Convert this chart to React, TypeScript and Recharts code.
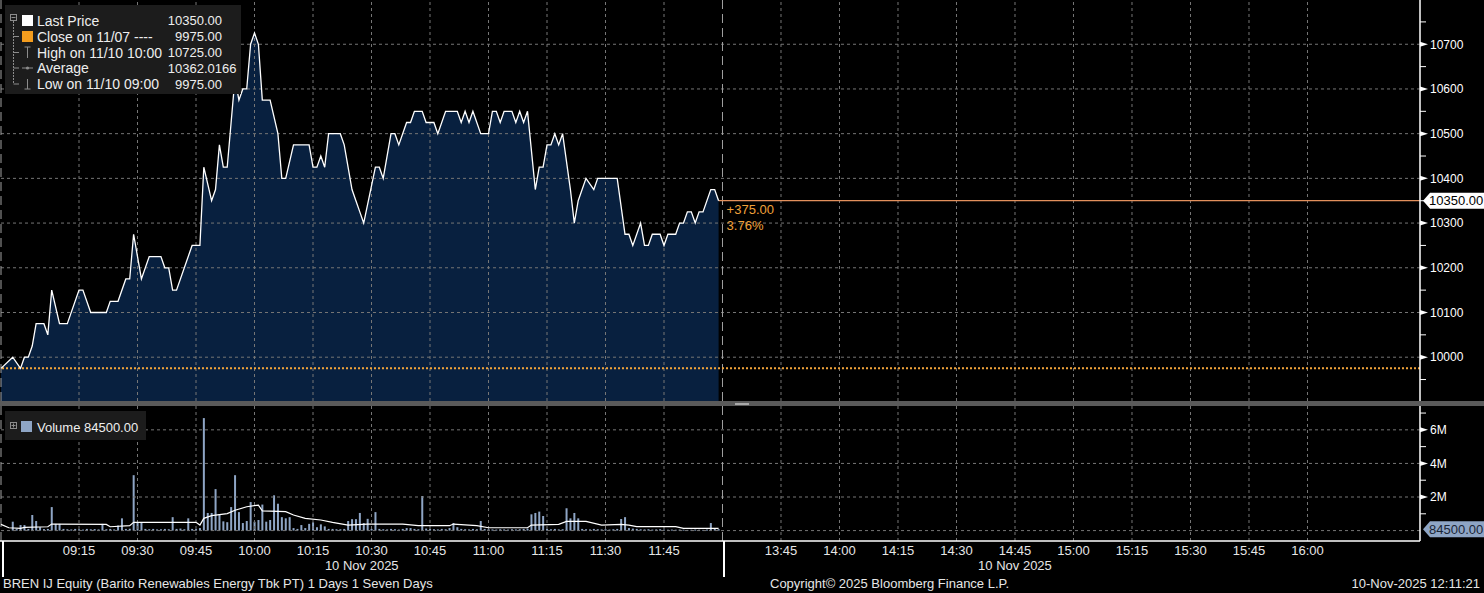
import React from "react"
import {
  Area,
  Bar,
  ComposedChart,
  Line,
  ReferenceLine,
  XAxis,
  YAxis,
} from "recharts"

// minutes of trading day, lunch break (12:00-13:30) squeezed out
const toMin = (t: string) => {
  const [h, mm] = t.split(":").map(Number)
  const m = h * 60 + mm - 540
  return m >= 270 ? m - 90 : m
}

const prevClose = 9975
const avgLabel = "10362.0166"

const priceTimes = [
  "08:55", "08:58", "09:00", "09:01", "09:02", "09:03", "09:04", "09:06", "09:07", "09:08",
  "09:10", "09:12", "09:15", "09:16", "09:18", "09:22", "09:23", "09:25", "09:27", "09:28",
  "09:29", "09:31", "09:33", "09:36", "09:37", "09:38", "09:39", "09:40", "09:44", "09:46",
  "09:47", "09:49", "09:50", "09:51", "09:52", "09:53", "09:54", "09:55", "09:56", "09:57",
  "09:58", "09:59", "10:00", "10:01", "10:02", "10:04", "10:06", "10:07", "10:08", "10:10",
  "10:14", "10:15", "10:16", "10:17", "10:18", "10:19", "10:22", "10:23", "10:25", "10:26",
  "10:27", "10:28", "10:31", "10:32", "10:33", "10:35", "10:36", "10:37", "10:39", "10:40",
  "10:41", "10:43", "10:44", "10:46", "10:47", "10:49", "10:52", "10:53", "10:54", "10:55",
  "10:56", "10:58", "11:00", "11:01", "11:02", "11:03", "11:04", "11:06", "11:07", "11:08",
  "11:09", "11:10", "11:12", "11:13", "11:14", "11:15", "11:16", "11:17", "11:18", "11:19",
  "11:21", "11:22", "11:23", "11:25", "11:27", "11:28", "11:33", "11:35", "11:36", "11:37",
  "11:39", "11:40", "11:41", "11:42", "11:44", "11:45", "11:46", "11:48", "11:49", "11:50",
  "11:51", "11:52", "11:53", "11:54", "11:55", "11:57", "11:58", "11:59",
]
const priceValues = [
  9975, 10000, 9975, 10000, 10000, 10025, 10075, 10075, 10050, 10150,
  10075, 10075, 10150, 10150, 10100, 10100, 10125, 10125, 10175, 10175,
  10275, 10175, 10225, 10225, 10200, 10200, 10150, 10150, 10250, 10250,
  10425, 10350, 10375, 10475, 10425, 10425, 10525, 10625, 10575, 10600,
  10600, 10700, 10725, 10700, 10575, 10575, 10500, 10400, 10400, 10475,
  10475, 10425, 10425, 10450, 10425, 10500, 10500, 10475, 10375, 10350,
  10325, 10300, 10425, 10425, 10400, 10500, 10500, 10475, 10525, 10525,
  10550, 10550, 10525, 10525, 10500, 10550, 10550, 10525, 10550, 10525,
  10550, 10500, 10500, 10550, 10550, 10525, 10550, 10550, 10525, 10550,
  10525, 10550, 10375, 10425, 10425, 10475, 10475, 10500, 10475, 10500,
  10375, 10300, 10350, 10400, 10375, 10400, 10400, 10275, 10275, 10250,
  10300, 10250, 10250, 10275, 10275, 10250, 10275, 10275, 10300, 10300,
  10325, 10325, 10300, 10325, 10325, 10375, 10375, 10350,
]

// 1-minute volume, thousands of shares, from 08:58
const volumeStart = "08:58"
const volumes = [
  530, 90, 330, 330, 100, 930, 570, 200, 90, 100,
  1400, 400, 400, 100, 80, 70, 100, 80, 60, 100,
  80, 90, 70, 400, 80, 100, 70, 300, 730, 100,
  110, 3300, 490, 490, 100, 80, 100, 70, 80, 100,
  80, 800, 100, 120, 80, 730, 100, 90, 150, 6700,
  1050, 1050, 2470, 980, 550, 500, 1400, 3300, 1100, 450,
  570, 1700, 530, 630, 1550, 530, 630, 2100, 1600, 800,
  730, 800, 150, 100, 330, 150, 400, 490, 200, 370,
  250, 100, 100, 80, 80, 100, 570, 680, 680, 1050,
  450, 700, 100, 1100, 100, 80, 70, 100, 80, 60,
  100, 150, 150, 100, 80, 2060, 120, 100, 80, 70,
  100, 80, 150, 450, 200, 100, 80, 70, 100, 80,
  570, 100, 80, 70, 60, 80, 70, 60, 80, 70,
  80, 100, 120, 970, 1050, 1130, 870, 100, 80, 100,
  70, 80, 1330, 730, 1050, 730, 100, 80, 70, 100,
  80, 70, 80, 60, 80, 100, 690, 800, 150, 120,
  100, 80, 70, 80, 60, 70, 80, 60, 50, 60,
  50, 60, 50, 40, 50, 60, 50, 40, 60, 450,
  100, 84.5,
]

// volume average line
const avgTimes = [
  "08:55", "08:57", "09:00", "09:01", "09:07", "09:08", "09:22", "09:23", "09:28", "09:29",
  "09:45", "09:46", "09:47", "09:49", "09:53", "09:55", "09:58", "10:01", "10:02", "10:08",
  "10:10", "10:13", "10:17", "10:20", "10:24", "10:29", "10:38", "10:42", "10:50", "10:51",
  "10:57", "11:00", "11:10", "11:11", "11:18", "11:20", "11:25", "11:29", "11:34", "11:36",
  "11:38", "11:48", "11:50", "11:59",
]
const avgValues = [
  370, 170, 130, 190, 230, 390, 370, 230, 290, 490,
  490, 330, 730, 890, 1010, 1210, 1420, 1520, 1170, 1130,
  930, 730, 630, 490, 330, 390, 390, 290, 290, 390,
  290, 170, 170, 330, 370, 550, 550, 330, 370, 330,
  240, 240, 130, 130,
]

const tickLabels = [
  "09:15", "09:30", "09:45", "10:00", "10:15", "10:30", "10:45", "11:00", "11:15", "11:30", "11:45",
  "13:45", "14:00", "14:15", "14:30", "14:45", "15:00", "15:15", "15:30", "15:45", "16:00",
]
const sessionBreaks = ["08:55", "12:00"]
const dateLabel = "10 Nov 2025"

const priceTicks = [
  9950, 10000, 10050, 10100, 10150, 10200, 10250, 10300, 10350, 10400,
  10450, 10500, 10550, 10600, 10650, 10700, 10750,
]
const priceGrid = [10000, 10100, 10200, 10300, 10400, 10500, 10600, 10700]
const volTicks = [1000, 2000, 3000, 4000, 5000, 6000, 7000]
const volGrid = [0, 2000, 4000, 6000]

const xDomain: [number, number] = [-5.26, 358.85]
const priceDomain: [number, number] = [9902, 10799]
const volDomain: [number, number] = [-620, 7420]

const priceData = priceTimes.map((t, i) => ({ m: toMin(t), price: priceValues[i] }))
const volumeData = volumes.map((v, i) => ({ m: toMin(volumeStart) + i, vol: v }))
const avgData = avgTimes.map((t, i) => ({ m: toMin(t), avg: avgValues[i] }))
const tickMins = tickLabels.map(toMin)

const FONT = '"Liberation Sans", Arial, sans-serif'
const PLOT_W = 1420
const GRID = "#767676"
const xOf = (m: number) => ((m - xDomain[0]) / (xDomain[1] - xDomain[0])) * PLOT_W

function PriceTick(props: any) {
  const { x, y, payload } = props
  const v = payload.value
  if (v % 100 !== 0) {
    return <line x1={x} x2={x + 6} y1={y} y2={y} stroke="#fff" />
  }
  return (
    <g>
      <polygon points={`${x},${y - 2.5} ${x + 8},${y} ${x},${y + 2.5}`} fill="#fff" />
      <text x={x + 10} y={y + 4.3} fill="#fff" fontSize={12} fontFamily={FONT}>
        {v}
      </text>
    </g>
  )
}

function VolTick(props: any) {
  const { x, y, payload } = props
  const v = payload.value
  if (v % 2000 !== 0) {
    return <line x1={x} x2={x + 6} y1={y} y2={y} stroke="#fff" />
  }
  return (
    <g>
      <polygon points={`${x},${y - 2.5} ${x + 8},${y} ${x},${y + 2.5}`} fill="#fff" />
      <text x={x + 10} y={y + 4.3} fill="#fff" fontSize={12} fontFamily={FONT}>
        {`${v / 1000}M`}
      </text>
    </g>
  )
}

function AxisBadge({ y, text, fill, color }: { y: number; text: string; fill: string; color: string }) {
  const x = PLOT_W + 3
  return (
    <g>
      <polygon
        points={`${x},${y} ${x + 7},${y - 8} ${1484},${y - 8} ${1484},${y + 8} ${x + 7},${y + 8}`}
        fill={fill}
      />
      <text x={x + 6} y={y + 4.5} fill={color} fontSize={13} fontFamily={FONT}>
        {text}
      </text>
    </g>
  )
}

function PriceLegend({ last, high, low }: { last: number; high: number; low: number }) {
  const rows = [
    { label: "Last Price", int: String(last), frac: ".00" },
    { label: "Close on 11/07 ----", int: String(prevClose), frac: ".00" },
    { label: "High on 11/10 10:00", int: String(high), frac: ".00" },
    { label: "Average", int: avgLabel.split(".")[0], frac: "." + avgLabel.split(".")[1] },
    { label: "Low on 11/10 09:00", int: String(low), frac: ".00" },
  ]
  const rowY = [20.5, 36.5, 52.5, 68, 84]
  const g = "#8c8c8c"
  return (
    <svg width={250} height={100} style={{ position: "absolute", left: 0, top: 0 }}>
      <rect x={5} y={5} width={236} height={89} fill="#1c1c1c" />
      <rect x={10.5} y={14.5} width={6} height={6} fill="none" stroke={g} />
      <line x1={11.5} x2={15.5} y1={17.5} y2={17.5} stroke={g} />
      <line x1={13.5} x2={13.5} y1={21} y2={84} stroke={g} strokeDasharray="2 1" />
      {rowY.slice(1).map((y) => (
        <line key={y} x1={13.5} x2={19} y1={y} y2={y} stroke={g} />
      ))}
      <rect x={22} y={15} width={11} height={11} fill="#fff" />
      <rect x={22} y={31} width={11} height={11} fill="#f39c1e" />
      <line x1={27.5} x2={27.5} y1={47} y2={58} stroke={g} />
      <line x1={24.5} x2={30.5} y1={47} y2={47} stroke={g} />
      <line x1={22} x2={33} y1={68} y2={68} stroke={g} />
      <circle cx={27.5} cy={68} r={1.6} fill={g} />
      <line x1={27.5} x2={27.5} y1={79} y2={89} stroke={g} />
      <line x1={24.5} x2={30.5} y1={89} y2={89} stroke={g} />
      {rows.map((r, i) => (
        <g key={r.label} fontFamily={FONT} fill="#eee">
          <text x={37} y={rowY[i] + 5} fontSize={14}>{r.label}</text>
          <text x={204} y={rowY[i] + 4.8} fontSize={13} textAnchor="end">{r.int}</text>
          <text x={204} y={rowY[i] + 4.8} fontSize={13}>{r.frac}</text>
        </g>
      ))}
    </svg>
  )
}

function VolumeLegend({ last }: { last: number }) {
  const g = "#8c8c8c"
  return (
    <svg width={160} height={40} style={{ position: "absolute", left: 0, top: 406 }}>
      <rect x={5} y={5} width={141} height={29} fill="#1c1c1c" />
      <rect x={10.5} y={16.5} width={6} height={6} fill="none" stroke={g} />
      <line x1={11.5} x2={15.5} y1={19.5} y2={19.5} stroke={g} />
      <line x1={13.5} x2={13.5} y1={17.5} y2={21.5} stroke={g} />
      <rect x={21} y={15} width={11} height={11} fill="#8ea5c5" />
      <text x={37} y={25.5} fontFamily={FONT} fontSize={13} fill="#eee">
        {`Volume ${(last * 1000).toFixed(2)}`}
      </text>
    </svg>
  )
}

export default function App() {
  const last = priceValues[priceValues.length - 1]
  const lastM = priceData[priceData.length - 1].m
  const high = Math.max(...priceValues)
  const low = Math.min(...priceValues)
  const change = last - prevClose
  const pct = (change / prevClose) * 100
  const lastVol = volumes[volumes.length - 1]

  const vGrid = (key: string) =>
    tickMins.map((m) => (
      <ReferenceLine key={key + m} x={m} stroke={GRID} strokeDasharray="3 3" />
    ))
  const breaks = (key: string) =>
    sessionBreaks.map((t) => (
      <ReferenceLine key={key + t} x={toMin(t)} stroke="#a0a0a0" strokeDasharray="9 5" />
    ))

  return (
    <div
      style={{
        position: "absolute",
        left: 0,
        top: 0,
        width: 1484,
        height: 593,
        background: "#000",
        overflow: "hidden",
        fontFamily: FONT,
        color: "#e6e6e6",
      }}
    >
      <div style={{ position: "absolute", left: 0, top: 0 }}>
        <ComposedChart width={1484} height={401} data={priceData} margin={{ top: 0, right: 0, bottom: 0, left: 0 }}>
          <XAxis type="number" dataKey="m" domain={xDomain} allowDataOverflow hide />
          <YAxis
            orientation="right"
            width={64}
            domain={priceDomain}
            allowDataOverflow
            ticks={priceTicks}
            interval={0}
            tick={<PriceTick />}
            tickLine={false}
            tickSize={0}
            tickMargin={0}
            axisLine={{ stroke: "#fff", strokeWidth: 1.5 }}
          />
          <Area
            dataKey="price"
            type="linear"
            fill="#08203f"
            fillOpacity={1}
            stroke="none"
            isAnimationActive={false}
          />
          {priceGrid.map((p) => (
            <ReferenceLine key={"h" + p} y={p} stroke={GRID} strokeDasharray="3 3" />
          ))}
          {vGrid("pv")}
          {breaks("pb")}
          <ReferenceLine y={prevClose} stroke="#f2a43a" strokeWidth={2} strokeDasharray="2 2" />
          <ReferenceLine
            segment={[
              { x: lastM, y: last },
              { x: xDomain[1], y: last },
            ]}
            stroke="#e3905c"
            strokeWidth={1.2}
            label={(p: any) => {
              const vb = p.viewBox || {}
              return (
                <g fontFamily={FONT} fontSize={13} fill="#f0a03a">
                  <text x={(vb.x ?? 0) + 8} y={(vb.y ?? 0) + 13.5}>{`+${change.toFixed(2)}`}</text>
                  <text x={(vb.x ?? 0) + 8} y={(vb.y ?? 0) + 29.5}>{`${pct.toFixed(2)}%`}</text>
                  <AxisBadge y={vb.y ?? 0} text={last.toFixed(2)} fill="#fff" color="#000" />
                </g>
              )
            }}
          />
          <Line
            dataKey="price"
            type="linear"
            stroke="#fff"
            strokeWidth={1.3}
            dot={false}
            isAnimationActive={false}
          />
        </ComposedChart>
      </div>

      <div style={{ position: "absolute", left: 0, top: 401, width: 1484, height: 5, background: "#5a5a5a" }} />
      <div style={{ position: "absolute", left: 735, top: 403, width: 14, height: 1.5, background: "#a8a8a8" }} />

      <div style={{ position: "absolute", left: 0, top: 406 }}>
        <ComposedChart width={1484} height={171} data={volumeData} margin={{ top: 0, right: 0, bottom: 0, left: 0 }}>
          <XAxis
            type="number"
            dataKey="m"
            domain={xDomain}
            allowDataOverflow
            ticks={tickMins}
            interval={0}
            tickFormatter={(v: number) => tickLabels[tickMins.indexOf(v)] ?? ""}
            height={36}
            tickLine={false}
            tickSize={3}
            tickMargin={2}
            axisLine={{ stroke: "#fff", strokeWidth: 1.5 }}
            tick={{ fill: "#e6e6e6", fontSize: 13, fontFamily: FONT }}
          />
          <YAxis
            orientation="right"
            width={64}
            domain={volDomain}
            allowDataOverflow
            ticks={volTicks}
            interval={0}
            tick={<VolTick />}
            tickLine={false}
            tickSize={0}
            tickMargin={0}
            axisLine={{ stroke: "#fff", strokeWidth: 1.5 }}
          />
          {volGrid.map((v) => (
            <ReferenceLine key={"vh" + v} y={v} stroke={GRID} strokeDasharray="3 3" />
          ))}
          {vGrid("vv")}
          {breaks("vb")}
          <Bar dataKey="vol" fill="#8ea5c5" barSize={2} isAnimationActive={false} />
          <Line
            data={avgData}
            dataKey="avg"
            type="linear"
            stroke="#fff"
            strokeWidth={1.2}
            dot={false}
            isAnimationActive={false}
          />
          <ReferenceLine
            y={lastVol}
            stroke="none"
            label={(p: any) => (
              <AxisBadge
                y={(p.viewBox && p.viewBox.y) || 0}
                text={(lastVol * 1000).toFixed(2)}
                fill="#8ea5c5"
                color="#1a2536"
              />
            )}
          />
        </ComposedChart>
      </div>

      <PriceLegend last={last} high={high} low={low} />
      <VolumeLegend last={lastVol} />

      {sessionBreaks.map((t) => (
        <div
          key={"sep" + t}
          style={{ position: "absolute", left: xOf(toMin(t)) + 1, top: 541, width: 1.5, height: 36, background: "#fff" }}
        />
      ))}
      {[
        [toMin("08:55"), toMin("12:00")],
        [toMin("13:30"), toMin("16:00")],
      ].map(([a, b]) => (
        <div
          key={"d" + a}
          style={{
            position: "absolute",
            left: xOf((a + b) / 2) - 60,
            width: 120,
            top: 558,
            textAlign: "center",
            fontSize: 13,
          }}
        >
          {dateLabel}
        </div>
      ))}

      <div style={{ position: "absolute", left: 3, top: 576, fontSize: 13 }}>
        BREN IJ Equity (Barito Renewables Energy Tbk PT) 1 Days 1 Seven Days
      </div>
      <div style={{ position: "absolute", left: 770, top: 576, fontSize: 13 }}>
        Copyright© 2025 Bloomberg Finance L.P.
      </div>
      <div style={{ position: "absolute", right: 4, top: 576, fontSize: 13 }}>10-Nov-2025 12:11:21</div>
    </div>
  )
}
